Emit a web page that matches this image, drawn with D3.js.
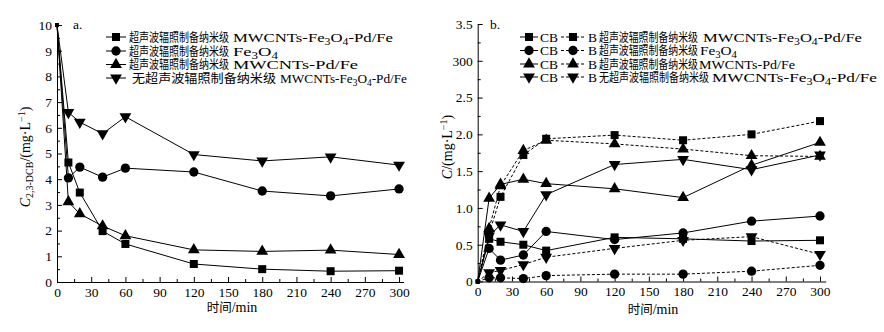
<!DOCTYPE html>
<html>
<head>
<meta charset="utf-8">
<script src="https://cdn.jsdelivr.net/npm/d3@7"></script>
<style>
  body { margin: 0; background: #fff; }
  svg text, svg tspan { font-family: "Liberation Serif", "Times New Roman", serif !important; }
  svg text.cn, svg tspan.cn { font-family: "Noto Sans CJK SC", sans-serif !important; }
</style>
</head>
<body>
<svg id="chart" width="884" height="332"></svg>
<script>
const times = [0, 10, 20, 40, 60, 120, 180, 240, 300];
const xTicks = [0, 30, 60, 90, 120, 150, 180, 210, 240, 270, 300];

// panel a: C(2,3-DCB)
const aSquare = [10, 4.65, 3.48, 1.98, 1.48, 0.7, 0.5, 0.42, 0.44];
const aCircle = [10, 4.05, 4.47, 4.08, 4.43, 4.28, 3.54, 3.35, 3.62];
const aTriUp = [10, 3.12, 2.65, 2.18, 1.8, 1.25, 1.19, 1.24, 1.07];
const aTriDown = [10, 6.6, 6.22, 5.77, 6.43, 4.96, 4.71, 4.87, 4.55];
const aYTicks = [0, 1, 2, 3, 4, 5, 6, 7, 8, 9, 10];

// panel b: CB (solid) and B (dashed)
const cbSquare = [0, 0.58, 0.54, 0.5, 0.42, 0.6, 0.58, 0.55, 0.56];
const bSquare = [0, 0.65, 1.15, 1.72, 1.94, 1.99, 1.92, 2.0, 2.18];
const cbCircle = [0, 0.45, 0.29, 0.36, 0.68, 0.57, 0.66, 0.82, 0.89];
const bCircle = [0, 0.05, 0.05, 0.04, 0.08, 0.1, 0.1, 0.14, 0.22];
const cbTriUp = [0, 1.13, 1.32, 1.39, 1.33, 1.26, 1.14, 1.58, 1.89];
const bTriUp = [0, 0.72, 1.3, 1.78, 1.92, 1.87, 1.8, 1.71, 1.7];
const cbTriDown = [0, 0.62, 0.77, 0.68, 1.18, 1.59, 1.66, 1.52, 1.72];
const bTriDown = [0, 0.12, 0.15, 0.23, 0.33, 0.45, 0.56, 0.61, 0.37];
const bYTicks = [0, 0.5, 1, 1.5, 2, 2.5, 3, 3.5];
const bYTickLabels = ["0", "0.5", "1.0", "1.5", "2.0", "2.5", "300", "3.5"];

const cnNames = ["超声波辐照制备纳米级", "超声波辐照制备纳米级", "超声波辐照制备纳米级", "无超声波辐照制备纳米级"];
const formulas = ["MWCNTs-Fe3O4-Pd/Fe", "Fe3O4", "MWCNTs-Pd/Fe", "MWCNTs-Fe3O4-Pd/Fe"];
const markers = ["square", "circle", "up", "down"];

const svg = d3.select("#chart");

const symbolOf = (m) => {
  if (m === "square") return d3.symbol(d3.symbolSquare, 64)();
  if (m === "circle") return d3.symbol(d3.symbolCircle, 68)();
  return d3.symbol(d3.symbolTriangle, 60)();
};
const drawMarker = (g, m, x, y) =>
  g.append("path")
    .attr("d", symbolOf(m))
    .attr("transform", `translate(${x},${y})${m === "down" ? " rotate(180)" : ""}`)
    .attr("fill", "#000");

// text with digit subscripts
function formulaText(g, str, x, y, len) {
  const t = g.append("text").attr("x", x).attr("y", y).attr("font-size", 13.5);
  let shift = 0;
  str.split(/(\d)/).filter((s) => s).forEach((s) => {
    if (/\d/.test(s)) {
      t.append("tspan").attr("font-size", 9.5).attr("dy", 3 - shift).text(s);
      shift = 3;
    } else {
      t.append("tspan").attr("dy", -shift).text(s);
      shift = 0;
    }
  });
  if (len) t.attr("textLength", len).attr("lengthAdjust", "spacingAndGlyphs");
  return t;
}
function cnText(g, str, x, y, len) {
  return g.append("text").attr("class", "cn").attr("x", x).attr("y", y)
    .attr("font-size", 12).attr("textLength", len)
    .attr("lengthAdjust", "spacingAndGlyphs").text(str);
}

function panel(cfg) {
  const x = d3.scaleLinear().domain([0, cfg.xMax]).range(cfg.xRange);
  const y = d3.scaleLinear().domain(cfg.yDomain).range(cfg.yRange);
  const g = svg.append("g");

  g.append("g").attr("transform", `translate(0,${cfg.yRange[0]})`)
    .call(d3.axisBottom(x).tickValues(xTicks).tickSize(-5).tickSizeOuter(0).tickPadding(5));
  g.append("g").attr("transform", `translate(0,${cfg.yRange[0]})`)
    .call(d3.axisBottom(x).tickValues(d3.range(15, 300, 30)).tickSize(-3).tickSizeOuter(0).tickFormat(""))
    .select(".domain").remove();
  g.append("g").attr("transform", `translate(${cfg.xRange[0]},0)`)
    .call(d3.axisLeft(y).tickValues(cfg.yTicks).tickSize(-5).tickSizeOuter(0).tickPadding(5)
      .tickFormat((d, i) => cfg.yLabels ? cfg.yLabels[i] : d));
  g.append("g").attr("transform", `translate(${cfg.xRange[0]},0)`)
    .call(d3.axisLeft(y).tickValues(cfg.yMinor).tickSize(-3).tickSizeOuter(0).tickFormat(""))
    .select(".domain").remove();
  g.selectAll(".tick text").attr("font-size", 13.5).attr("fill", "#000");
  g.selectAll(".domain, .tick line").attr("stroke", "#000");

  const line = d3.line().x((d, i) => x(times[i])).y((d) => y(d));
  cfg.series.forEach((s) => {
    g.append("path").datum(s.values).attr("d", line)
      .attr("fill", "none").attr("stroke", "#000").attr("stroke-width", 1)
      .attr("stroke-dasharray", s.dashed ? "3,2" : null);
  });
  cfg.series.forEach((s) => {
    s.values.forEach((v, i) => {
      if (i === 0) return;
      drawMarker(g, s.marker, x(times[i]), y(v));
    });
  });
  // small starting points
  cfg.series.forEach((s) =>
    g.append("path").attr("d", d3.symbol(d3.symbolSquare, 14)())
      .attr("transform", `translate(${x(times[0])},${y(s.values[0])})`).attr("fill", "#000"));
  return { x, y, g };
}

// panel a
panel({
  xMax: 304, xRange: [57, 403.6], yDomain: [0, 10], yRange: [282, 25],
  yTicks: aYTicks, yMinor: d3.range(0.5, 10, 1),
  series: [
    { values: aSquare, marker: "square" },
    { values: aCircle, marker: "circle" },
    { values: aTriUp, marker: "up" },
    { values: aTriDown, marker: "down" }
  ]
});

// panel b
panel({
  xMax: 305, xRange: [477.7, 825.7], yDomain: [0, 3.5], yRange: [281.5, 24],
  yTicks: bYTicks, yLabels: bYTickLabels, yMinor: d3.range(0.25, 3.5, 0.5),
  series: [
    { values: cbSquare, marker: "square" },
    { values: bSquare, marker: "square", dashed: true },
    { values: cbCircle, marker: "circle" },
    { values: bCircle, marker: "circle", dashed: true },
    { values: cbTriUp, marker: "up" },
    { values: bTriUp, marker: "up", dashed: true },
    { values: cbTriDown, marker: "down" },
    { values: bTriDown, marker: "down", dashed: true }
  ]
});

// panel tags
svg.append("text").attr("x", 73).attr("y", 29).attr("font-size", 13.5).text("a.");
svg.append("text").attr("x", 490).attr("y", 29).attr("font-size", 13.5).text("b.");

// legend a
const legA = svg.append("g");
const rowA = [37, 51, 64.5, 78];
const cnLenA = [100, 100, 100, 144];
const cnXA = [129, 129, 129, 132];
const latXA = [233, 233, 233, 280];
const latLenA = [160, 45, 125, 127];
rowA.forEach((yy, i) => {
  legA.append("line").attr("x1", 106).attr("x2", 126).attr("y1", yy).attr("y2", yy).attr("stroke", "#000");
  drawMarker(legA, markers[i], 116, yy);
  cnText(legA, cnNames[i], cnXA[i], yy + 4.5, cnLenA[i]);
  formulaText(legA, formulas[i], latXA[i], yy + 4.5, latLenA[i]);
});

// legend b
const legB = svg.append("g");
const rowB = [37, 50.5, 64, 77];
const cnLenB = [99, 99, 99, 110];
const latXB = [703, 700, 699, 712];
const latLenB = [159, 37, 96, 165];
rowB.forEach((yy, i) => {
  legB.append("line").attr("x1", 520).attr("x2", 538).attr("y1", yy).attr("y2", yy).attr("stroke", "#000");
  drawMarker(legB, markers[i], 529, yy);
  legB.append("text").attr("x", 540).attr("y", yy + 4.5).attr("font-size", 13.5).text("CB");
  legB.append("line").attr("x1", 561).attr("x2", 586).attr("y1", yy).attr("y2", yy)
    .attr("stroke", "#000").attr("stroke-dasharray", "3,2");
  drawMarker(legB, markers[i], 573, yy);
  legB.append("text").attr("x", 588).attr("y", yy + 4.5).attr("font-size", 13.5).text("B");
  cnText(legB, cnNames[i], 599, yy + 4.5, cnLenB[i]);
  formulaText(legB, formulas[i], latXB[i], yy + 4.5, latLenB[i]);
});

// axis titles
const yTitleA = svg.append("text").attr("transform", "translate(30,157) rotate(-90)")
  .attr("text-anchor", "middle").attr("font-size", 14);
yTitleA.append("tspan").attr("font-style", "italic").text("C");
yTitleA.append("tspan").attr("font-size", 10).attr("dy", 3).text("2,3-DCB");
yTitleA.append("tspan").attr("dy", -3).text("/(mg·L");
yTitleA.append("tspan").attr("font-size", 10).attr("dy", -5).text("−1");
yTitleA.append("tspan").attr("dy", 5).text(")");

const yTitleB = svg.append("text").attr("transform", "translate(452,147) rotate(-90)")
  .attr("text-anchor", "middle").attr("font-size", 14);
yTitleB.append("tspan").attr("font-style", "italic").text("C");
yTitleB.append("tspan").text("/(mg·L");
yTitleB.append("tspan").attr("font-size", 10).attr("dy", -5).text("−1");
yTitleB.append("tspan").attr("dy", 5).text(")");

[[232, 312], [653, 314]].forEach(([cx, cy]) => {
  const t = svg.append("text").attr("x", cx).attr("y", cy).attr("text-anchor", "middle").attr("font-size", 14);
  t.append("tspan").attr("class", "cn").attr("font-size", 12.5).text("时间");
  t.append("tspan").text("/min");
});
</script>
</body>
</html>
